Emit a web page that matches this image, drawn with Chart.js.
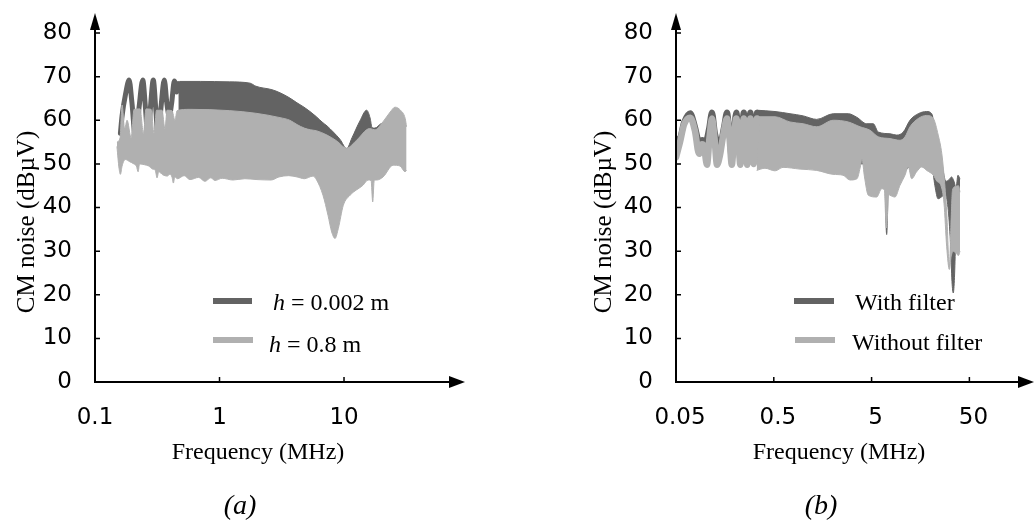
<!DOCTYPE html>
<html>
<head>
<meta charset="utf-8">
<script src="https://cdn.jsdelivr.net/npm/chart.js@4.4.0/dist/chart.umd.min.js"></script>
<style>
  html, body { margin: 0; padding: 0; background: #fff; }
  #wrap { position: relative; width: 1035px; height: 522px; overflow: hidden; }
  .panel { position: absolute; top: 0; }
</style>
</head>
<body>
<div id="wrap">
  <canvas id="chartA" class="panel" width="520" height="522" style="left:0"></canvas>
  <canvas id="chartB" class="panel" width="515" height="522" style="left:520px"></canvas>
</div>
<script>
// ---- axis ticks ----
const yTicks = [0, 10, 20, 30, 40, 50, 60, 70, 80];
const aTicks = [0.1, 1, 10];
const aTickLabels = ["0.1", "1", "10"];
const bTicks = [0.05, 0.5, 5, 50];
const bTickLabels = ["0.05", "0.5", "5", "50"];

// ---- (a) h = 0.002 m ----
// low-frequency oscillation (drawn as a thick line)
const aDarkOscFreq = [0.160, 0.165, 0.176, 0.188, 0.198, 0.212, 0.226, 0.242, 0.254, 0.267, 0.279, 0.294, 0.307, 0.321, 0.339, 0.360, 0.379, 0.395, 0.413, 0.434, 0.452, 0.467];
const aDarkOsc = [57, 61, 66, 69.2, 64, 55.5, 63, 69.2, 63, 55.5, 63, 69.2, 63, 56, 63, 69.2, 63.5, 61, 64, 69.0, 66.5, 68.4];
// dense part: upper / lower envelope
const aDarkTopFreq = [0.467, 0.48, 0.7, 1.2, 1.76, 1.96, 2.64, 3.06, 3.62, 4.19, 4.77, 5.33, 6.0, 6.66, 7.3, 8.2, 9.3, 10.5, 11.6, 13.4, 15.2, 16.2, 16.8, 17.7, 19.8, 22.2, 25.7, 30.9];
const aDarkTop = [68.5, 68.9, 68.9, 68.8, 68.5, 67.8, 67.0, 66.3, 65.2, 64.0, 63.0, 62.0, 60.8, 59.6, 58.7, 57.3, 55.6, 53.5, 56, 59.8, 62.3, 60.5, 58.3, 58.2, 59.2, 59.6, 58, 57];
const aDarkBotFreq = [0.467, 4, 9, 10.5, 15, 30.9];
const aDarkBot = [58, 55, 52, 51, 52, 52];

// ---- (a) h = 0.8 m ----
const aLightTopFreq = [0.150, 0.159, 0.165, 0.173, 0.181, 0.195, 0.206, 0.23, 0.245, 0.257, 0.282, 0.298, 0.312, 0.345, 0.365, 0.379, 0.415, 0.439, 0.456, 0.58, 1.21, 1.96, 3.06, 3.67, 4.2, 4.8, 5.4, 6.0, 7.3, 8.7, 10.5, 12.6, 16.1, 17.7, 20.5, 23.5, 25.7, 28.4, 31, 31.8];
const aLightTop = [55, 56, 63.5, 58, 60, 56, 62.5, 62.6, 57, 62.6, 62.5, 57, 62.3, 62.3, 58, 62.3, 62.2, 60, 62.2, 62.5, 62.2, 61.6, 60.6, 60.0, 59.0, 58.2, 57.8, 57.6, 56.6, 55.3, 53.6, 55.4, 58.1, 57.8, 59.6, 61.9, 63.0, 62.3, 60.4, 58.5];
const aLightBotFreq = [0.150, 0.156, 0.160, 0.165, 0.175, 0.19, 0.205, 0.215, 0.222, 0.228, 0.25, 0.27, 0.29, 0.305, 0.315, 0.325, 0.35, 0.38, 0.40, 0.415, 0.426, 0.437, 0.46, 0.52, 0.58, 0.68, 0.765, 0.85, 0.92, 1.05, 1.28, 1.6, 2.0, 2.6, 3.0, 3.6, 4.2, 4.8, 5.64, 6.03, 6.78, 7.44, 7.96, 8.47, 9.0, 9.87, 11.17, 14.2, 15.6, 16.5, 17.0, 17.5, 18.3, 20.6, 24.8, 28.2, 30.9, 31.8];
const aLightBot = [54, 49, 47.6, 49.5, 51, 50.5, 50, 49.5, 48.2, 50, 49.8, 49.5, 48.8, 48.5, 46.8, 48.2, 47.5, 47.2, 47.6, 47.0, 45.6, 47.0, 46.6, 47.3, 46.4, 46.9, 46.0, 46.8, 46.2, 46.7, 46.3, 46.6, 46.4, 46.3, 47.0, 47.3, 47.0, 46.6, 47.2, 46.3, 42.8, 38.2, 34.4, 32.9, 35.2, 40.5, 42.8, 45.1, 46.3, 46.2, 41.3, 46.3, 46.3, 47, 49.7, 49.5, 48.2, 48.5];

// ---- (b) with filter ----
const bDarkOscFreq = [0.0500, 0.0550, 0.0604, 0.0700, 0.0782, 0.0860, 0.0933, 0.1002, 0.1087, 0.1167, 0.1252, 0.1344, 0.1443, 0.1548, 0.1661, 0.1762, 0.1860, 0.1959, 0.2068, 0.2178, 0.2272, 0.2365, 0.2468, 0.2568, 0.2673, 0.2775, 0.2882, 0.2992, 0.3115, 0.3234, 0.3367];
const bDarkOsc = [55.5, 56, 59.5, 61.6, 58.5, 55.2, 55.5, 55, 58, 61.8, 57, 55, 55.3, 58.5, 61.8, 57, 51, 57.5, 61.8, 57, 51, 57.5, 61.8, 57, 51, 57.5, 61.8, 57.5, 51.5, 58, 61.7];
const bDarkTopFreq = [0.334, 0.5144, 0.732, 1.0, 1.373, 2.03, 2.89, 3.52, 4.46, 5.20, 5.85, 7.71, 9.03, 10.55, 12.35, 15.0, 18.3, 20.6, 22.2, 23.9, 26.2, 28.8, 31.3, 32.8, 34.8, 36.5, 38.2, 40.1];
const bDarkTop = [62.3, 62.0, 61.5, 61.0, 60.2, 61.5, 61.5, 60.7, 59.2, 59.2, 57.3, 56.9, 56.6, 57.3, 60.0, 61.5, 62.0, 61.5, 58, 55, 50, 46, 46.5, 47, 46, 44.5, 47.4, 46.5];
const bDarkBotFreq = [0.334, 2.38, 4.38, 6.09, 6.85, 7.0, 7.13, 7.25, 7.41, 9.76, 17.58, 20.6, 22.2, 23.9, 26.2, 28.2, 30.2, 32.0, 33.2, 34.2, 35.2, 36.1, 37.3, 40.1];
const bDarkBot = [52, 50, 50, 47, 45.5, 37, 33.8, 37, 45.5, 48, 52, 50, 45, 42, 42.5, 43, 40, 32, 23, 20.4, 24, 32, 42.5, 42.8];

// ---- (b) without filter ----
const bLightOscFreq = [0.0500, 0.0550, 0.0604, 0.0700, 0.0782, 0.0860, 0.0922, 0.0966, 0.1037, 0.1100, 0.1167, 0.1237, 0.1313, 0.1409, 0.1530, 0.1661, 0.1762, 0.1860, 0.1959, 0.2068, 0.2178, 0.2272, 0.2365, 0.2468, 0.2568, 0.2673, 0.2775, 0.2882, 0.2992, 0.3115, 0.3234, 0.3367];
const bLightOsc = [51.5, 55, 59, 60.6, 57.5, 52.3, 54.5, 54, 49.8, 56, 60.4, 56, 49.8, 52, 57, 60.4, 56, 49.8, 56, 60.4, 56, 49.8, 56, 60.4, 56, 49.8, 56, 60.4, 56, 50, 56, 60.4];
const bLightTopFreq = [0.334, 0.3613, 0.5144, 0.732, 1.0, 1.373, 2.03, 2.89, 3.81, 4.82, 5.85, 7.71, 9.76, 10.98, 12.35, 15.0, 18.3, 21.4, 24.0, 26.1, 27.5, 29.3, 31.2, 32.4, 33.6, 36.1, 38.7, 40.1];
const bLightTop = [60.6, 60.8, 60.8, 59.6, 59.2, 58.5, 60.0, 59.6, 58.5, 57.7, 56.2, 55.8, 55.4, 56.2, 58.5, 60.4, 61.1, 60.4, 56.6, 52.4, 47.4, 39, 26.5, 36, 44, 44.8, 45, 43.5];
const bLightBotFreq = [0.334, 0.4064, 0.5144, 0.6211, 0.927, 1.373, 2.015, 2.55, 3.01, 3.55, 3.81, 3.99, 4.23, 4.63, 5.64, 6.34, 6.77, 6.95, 7.10, 7.25, 7.44, 7.71, 8.67, 9.76, 10.98, 11.87, 12.85, 14.46, 16.27, 18.3, 21.4, 23.3, 25.6, 27.5, 29.3, 31.2, 32.4, 34.0, 36.5, 38.7, 40.1];
const bLightBot = [48.5, 49.0, 48.4, 49.2, 48.8, 48.5, 47.6, 47.4, 46.3, 46.6, 49, 51, 47, 42.8, 42.4, 44.3, 44, 38, 35.3, 38, 43, 42.8, 42.4, 45.1, 47.4, 49.3, 46.6, 48.2, 49.3, 48.5, 47.4, 46, 45, 41, 31, 25.8, 28.5, 30, 29.5, 29.0, 30];

const DARK = "#636363";
const LIGHT = "#b0b0b0";
const SERIF = '"Liberation Serif", "Times New Roman", serif';
const TICK_FONT = { family: '"DejaVu Sans", sans-serif', size: 23 };

function toPoints(freq, vals) {
  if (freq.length !== vals.length) console.warn("length mismatch", freq.length, vals.length);
  return freq.map((f, i) => ({ x: f, y: vals[i] }));
}

// one filled band = upper line + lower line filled back to the upper one
function bandDatasets(label, color, topF, topV, botF, botV) {
  const common = {
    borderColor: color,
    backgroundColor: color,
    borderWidth: 1,
    pointRadius: 0,
    cubicInterpolationMode: "monotone",
  };
  return [
    { ...common, label: label, data: toPoints(topF, topV), fill: false },
    { ...common, label: label + " lower", data: toPoints(botF, botV), fill: "-1" },
  ];
}

// resolved low-frequency ripple: a thick stroked line
function oscDataset(label, color, freq, vals, width) {
  return {
    label: label + " ripple",
    data: toPoints(freq, vals),
    borderColor: color,
    borderWidth: width,
    borderJoinStyle: "round",
    borderCapStyle: "round",
    pointRadius: 0,
    fill: false,
    cubicInterpolationMode: "monotone",
  };
}

// axes with arrows, inner ticks, titles, caption and legend
function makeDecor(cfg) {
  return {
    id: "panelDecor",
    afterDraw(chart) {
      const { ctx, chartArea, scales } = chart;
      const left = chartArea.left;
      const bottom = chartArea.bottom;
      const right = chartArea.right;
      ctx.save();
      ctx.strokeStyle = "#000";
      ctx.fillStyle = "#000";

      // axis lines
      ctx.lineWidth = 2;
      ctx.beginPath();
      ctx.moveTo(right - 12, bottom);
      ctx.lineTo(left, bottom);
      ctx.lineTo(left, cfg.arrowTop + 14);
      ctx.stroke();

      // arrow heads
      ctx.beginPath();
      ctx.moveTo(left, cfg.arrowTop);
      ctx.lineTo(left - 5, cfg.arrowTop + 17);
      ctx.lineTo(left + 5, cfg.arrowTop + 17);
      ctx.closePath();
      ctx.fill();
      ctx.beginPath();
      ctx.moveTo(right, bottom);
      ctx.lineTo(right - 16, bottom - 6);
      ctx.lineTo(right - 16, bottom + 6);
      ctx.closePath();
      ctx.fill();

      // inner ticks
      ctx.lineWidth = 1.5;
      ctx.beginPath();
      scales.y.ticks.forEach((t) => {
        if (t.value === 0) return;
        const py = scales.y.getPixelForValue(t.value);
        ctx.moveTo(left, py);
        ctx.lineTo(left + 5, py);
      });
      scales.x.ticks.forEach((t, i) => {
        if (i === 0) return;
        const px = scales.x.getPixelForValue(t.value);
        ctx.moveTo(px, bottom);
        ctx.lineTo(px, bottom - 5);
      });
      ctx.stroke();

      // y title (rotated)
      ctx.save();
      ctx.translate(cfg.yTitle.x, cfg.yTitle.y);
      ctx.rotate(-Math.PI / 2);
      ctx.font = "25px " + SERIF;
      ctx.textAlign = "center";
      ctx.textBaseline = "alphabetic";
      ctx.fillText(cfg.yTitle.text, 0, 0);
      ctx.restore();

      // x title and caption
      ctx.textAlign = "center";
      ctx.textBaseline = "alphabetic";
      ctx.font = "24px " + SERIF;
      ctx.fillText(cfg.xTitle.text, cfg.xTitle.x, cfg.xTitle.y);
      ctx.font = "italic 28px " + SERIF;
      ctx.fillText(cfg.caption.text, cfg.caption.x, cfg.caption.y);

      // legend
      ctx.textAlign = "left";
      cfg.legend.forEach((item) => {
        ctx.strokeStyle = item.color;
        ctx.lineWidth = 6;
        ctx.beginPath();
        ctx.moveTo(item.x0, item.y);
        ctx.lineTo(item.x1, item.y);
        ctx.stroke();
        let tx = item.tx;
        item.parts.forEach(([txt, style]) => {
          ctx.font = style + "24px " + SERIF;
          ctx.fillStyle = "#000";
          ctx.fillText(txt, tx, item.ty);
          tx += ctx.measureText(txt).width;
        });
      });
      ctx.restore();
    },
  };
}

function makePanel(canvasId, p) {
  return new Chart(document.getElementById(canvasId), {
    type: "line",
    data: { datasets: p.datasets },
    options: {
      responsive: false,
      animation: false,
      layout: { padding: { left: 0, top: 33, right: p.padRight, bottom: 80 } },
      plugins: {
        legend: { display: false },
        tooltip: { enabled: false },
      },
      scales: {
        x: {
          type: "logarithmic",
          min: p.xMin,
          max: p.xMax,
          grid: { display: false },
          border: { display: false },
          afterFit: (s) => { s.height = 60; },
          afterBuildTicks: (s) => { s.ticks = p.xTicks.map((v) => ({ value: v })); },
          ticks: {
            autoSkip: false,
            maxRotation: 0,
            padding: 14,
            labelOffset: p.labelOffset,
            color: "#000",
            font: TICK_FONT,
            callback: (v, i) => p.xLabels[i],
          },
        },
        y: {
          min: 0,
          max: 80,
          grid: { display: false },
          border: { display: false },
          afterFit: (s) => { s.width = p.yWidth; },
          afterBuildTicks: (s) => { s.ticks = yTicks.map((v) => ({ value: v })); },
          ticks: {
            padding: 15,
            color: "#000",
            font: TICK_FONT,
            callback: (v) => String(v),
          },
        },
      },
    },
    plugins: [makeDecor(p.decor)],
  });
}

try {
  makePanel("chartA", {
    datasets: [
      ...bandDatasets("h = 0.8 m", LIGHT, aLightTopFreq, aLightTop, aLightBotFreq, aLightBot),
      ...bandDatasets("h = 0.002 m", DARK, aDarkTopFreq, aDarkTop, aDarkBotFreq, aDarkBot),
      oscDataset("h = 0.002 m", DARK, aDarkOscFreq, aDarkOsc, 5),
    ],
    xMin: 0.1,
    xMax: 93.7,
    xTicks: aTicks,
    xLabels: aTickLabels,
    labelOffset: 0,
    yWidth: 95,
    padRight: 55,
    decor: {
      arrowTop: 13,
      yTitle: { text: "CM noise (dBµV)", x: 33.5, y: 222 },
      xTitle: { text: "Frequency (MHz)", x: 258, y: 459 },
      caption: { text: "(a)", x: 240, y: 514 },
      legend: [
        { color: DARK, x0: 213, x1: 252, y: 301, tx: 273, ty: 310, parts: [["h", "italic "], [" = 0.002 m", ""]] },
        { color: LIGHT, x0: 213, x1: 253, y: 340, tx: 269, ty: 352, parts: [["h", "italic "], [" = 0.8 m", ""]] },
      ],
    },
  });

  makePanel("chartB", {
    datasets: [
      oscDataset("Without filter", LIGHT, bLightOscFreq, bLightOsc, 6.5),
      ...bandDatasets("Without filter", LIGHT, bLightTopFreq, bLightTop, bLightBotFreq, bLightBot),
      oscDataset("With filter", DARK, bDarkOscFreq, bDarkOsc, 6),
      ...bandDatasets("With filter", DARK, bDarkTopFreq, bDarkTop, bDarkBotFreq, bDarkBot),
    ],
    xMin: 0.05,
    xMax: 228.9,
    xTicks: bTicks,
    xLabels: bTickLabels,
    labelOffset: 4,
    yWidth: 156,
    padRight: 1,
    decor: {
      arrowTop: 13,
      yTitle: { text: "CM noise (dBµV)", x: 91, y: 222 },
      xTitle: { text: "Frequency (MHz)", x: 319, y: 459 },
      caption: { text: "(b)", x: 301, y: 514 },
      legend: [
        { color: DARK, x0: 274, x1: 314, y: 301, tx: 335, ty: 310, parts: [["With filter", ""]] },
        { color: LIGHT, x0: 275, x1: 315, y: 340, tx: 332, ty: 350, parts: [["Without filter", ""]] },
      ],
    },
  });
} catch (error) {
  console.error("Error creating charts:", error);
}
</script>
</body>
</html>
